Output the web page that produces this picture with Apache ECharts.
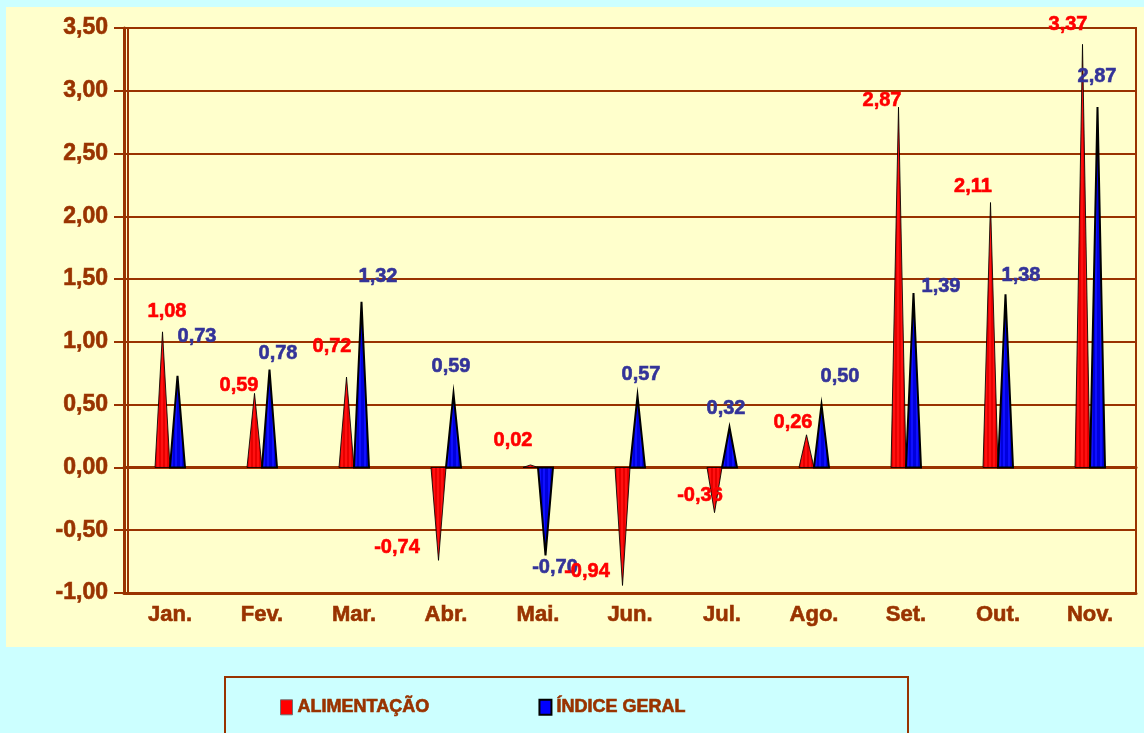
<!DOCTYPE html>
<html>
<head>
<meta charset="utf-8">
<script src="https://cdn.jsdelivr.net/npm/echarts@6/dist/echarts.min.js"></script>
<style>
html,body{margin:0;padding:0;background:#CCFFFF;}
#chart{width:1144px;height:733px;}
</style>
</head>
<body>
<div id="chart"></div>
<script>
const categories = ['Jan.', 'Fev.', 'Mar.', 'Abr.', 'Mai.', 'Jun.', 'Jul.', 'Ago.', 'Set.', 'Out.', 'Nov.'];
const alimentacao = [1.08, 0.59, 0.72, -0.74, 0.02, -0.94, -0.36, 0.26, 2.87, 2.11, 3.37];
const indiceGeral = [0.73, 0.78, 1.32, 0.59, -0.70, 0.57, 0.32, 0.50, 1.39, 1.38, 2.87];
const seriesNames = ['ALIMENTAÇÃO', 'ÍNDICE GERAL'];
const yMin = -1, yMax = 3.5, yStep = 0.5;

// label nudges (pixels, relative to category centre / value point)
const redLabelNudge = [[-3,-20],[-23,-8],[-22,-31],[-49,-13],[-25,-24],[-43,-14],[-22,-17],[-21,-12],[-24,-7],[-25,-16],[-22,-20]];
const blueLabelNudge = [[27,-39],[16,-16],[24,-25],[5,-27],[17,12],[11,-21],[4,-19],[26,-28],[35,-6],[23,-19],[7,-31]];

const BROWN = '#993300';
const FONT = '"Liberation Sans", Arial, sans-serif';
const fmt = v => v.toFixed(2).replace('.', ',');

function stripes(a, b, n) {
  const stops = [];
  for (let i = 0; i < n; i++) {
    stops.push({offset: i / n, color: i % 2 ? a : b});
    stops.push({offset: (i + 1) / n, color: i % 2 ? a : b});
  }
  return new echarts.graphic.LinearGradient(0, 0, 1, 0, stops);
}

function spike(side, fill, stroke, lw) {
  return function (params, api) {
    const idx = api.value(0), v = api.value(1);
    const base = api.coord([idx, 0]);
    const top = api.coord([idx, v]);
    const band = api.size([1, 0])[0];
    const w = band * 0.163;
    const x0 = side < 0 ? base[0] - w : base[0];
    const x1 = x0 + w;
    return {
      type: 'polygon',
      shape: {points: [[x0, base[1]], [(x0 + x1) / 2, top[1]], [x1, base[1]]]},
      style: {fill: fill, stroke: stroke, lineWidth: lw, lineJoin: 'miter'}
    };
  };
}

function labels(nudge, color) {
  return function (params, api) {
    const idx = api.value(0), v = api.value(1);
    const p = api.coord([idx, v]);
    const n = nudge[params.dataIndex];
    return {
      type: 'text',
      x: p[0] + n[0], y: p[1] + n[1],
      style: {text: fmt(v), fill: color, font: 'bold 20px ' + FONT, align: 'center', verticalAlign: 'middle',
        stroke: color, lineWidth: 0.6}
    };
  };
}

const redData = categories.map((c, i) => [i, alimentacao[i]]);
const blueData = categories.map((c, i) => [i, indiceGeral[i]]);

const axisText = {color: BROWN, fontWeight: 'bold', fontFamily: FONT, textBorderColor: BROWN, textBorderWidth: 0.6};

const chart = echarts.init(document.getElementById('chart'));
chart.setOption({
  animation: false,
  backgroundColor: '#CCFFFF',
  graphic: [
    {type: 'rect', z: -100, shape: {x: 6, y: 7, width: 1140, height: 640}, style: {fill: '#FFFFCC'}},
    {type: 'rect', z: -100, shape: {x: 225, y: 677, width: 683, height: 80}, style: {fill: '#CCFFFF', stroke: BROWN, lineWidth: 2}}
  ],
  grid: {left: 124, right: 8, top: 28, bottom: 140, show: true, borderColor: BROWN, borderWidth: 2, backgroundColor: 'transparent', containLabel: false},
  legend: {
    left: 280, top: 698, padding: 0, itemWidth: 12, itemHeight: 15, itemGap: 109, icon: 'rect', selectedMode: false,
    textStyle: Object.assign({fontSize: 18}, axisText),
    data: [
      {name: seriesNames[0], itemStyle: {color: '#FF0000', borderColor: '#707070', borderWidth: 1}},
      {name: seriesNames[1], itemStyle: {color: '#0000FF', borderColor: '#000000', borderWidth: 2}}
    ]
  },
  xAxis: [
    {
      type: 'category', data: categories, position: 'bottom',
      axisLine: {onZero: false, lineStyle: {color: BROWN, width: 3}},
      axisTick: {inside: true, length: 7, lineStyle: {color: BROWN, width: 2}},
      axisLabel: Object.assign({fontSize: 22, margin: 11}, axisText),
      splitLine: {show: false}
    },
    {
      type: 'category', data: categories, position: 'bottom',
      axisLine: {onZero: true, lineStyle: {color: BROWN, width: 3}},
      axisTick: {inside: true, length: 8, lineStyle: {color: BROWN, width: 2}},
      axisLabel: {show: false},
      splitLine: {show: false}
    }
  ],
  yAxis: [
    {
      type: 'value', min: yMin, max: yMax, interval: yStep, position: 'left', offset: 0,
      axisLine: {show: true, lineStyle: {color: BROWN, width: 3}},
      axisTick: {show: true, length: 10, lineStyle: {color: BROWN, width: 2}},
      axisLabel: Object.assign({fontSize: 23, margin: 16, formatter: fmt}, axisText),
      splitLine: {show: true, lineStyle: {color: BROWN, width: 2}}
    },
    {
      type: 'value', min: yMin, max: yMax, interval: yStep, position: 'left', offset: -4,
      axisLine: {show: true, lineStyle: {color: BROWN, width: 2}},
      axisTick: {show: false}, axisLabel: {show: false}, splitLine: {show: false}
    }
  ],
  series: [
    {name: seriesNames[0], type: 'custom', z: 3, itemStyle: {color: '#FF0000'}, encode: {x: 0, y: 1}, data: redData,
      renderItem: spike(-1, stripes('#FF1010', '#E80000', 8), 'rgba(0,0,0,0.85)', 1)},
    {name: seriesNames[1], type: 'custom', z: 3, itemStyle: {color: '#0000FF'}, encode: {x: 0, y: 1}, data: blueData,
      renderItem: spike(1, stripes('#1010FF', '#0000DD', 8), '#000000', 2)},
    {type: 'custom', z: 5, encode: {x: 0, y: 1}, data: blueData, renderItem: labels(blueLabelNudge, '#333399'), silent: true},
    {type: 'custom', z: 6, encode: {x: 0, y: 1}, data: redData, renderItem: labels(redLabelNudge, '#FF0000'), silent: true}
  ]
});
</script>
</body>
</html>
